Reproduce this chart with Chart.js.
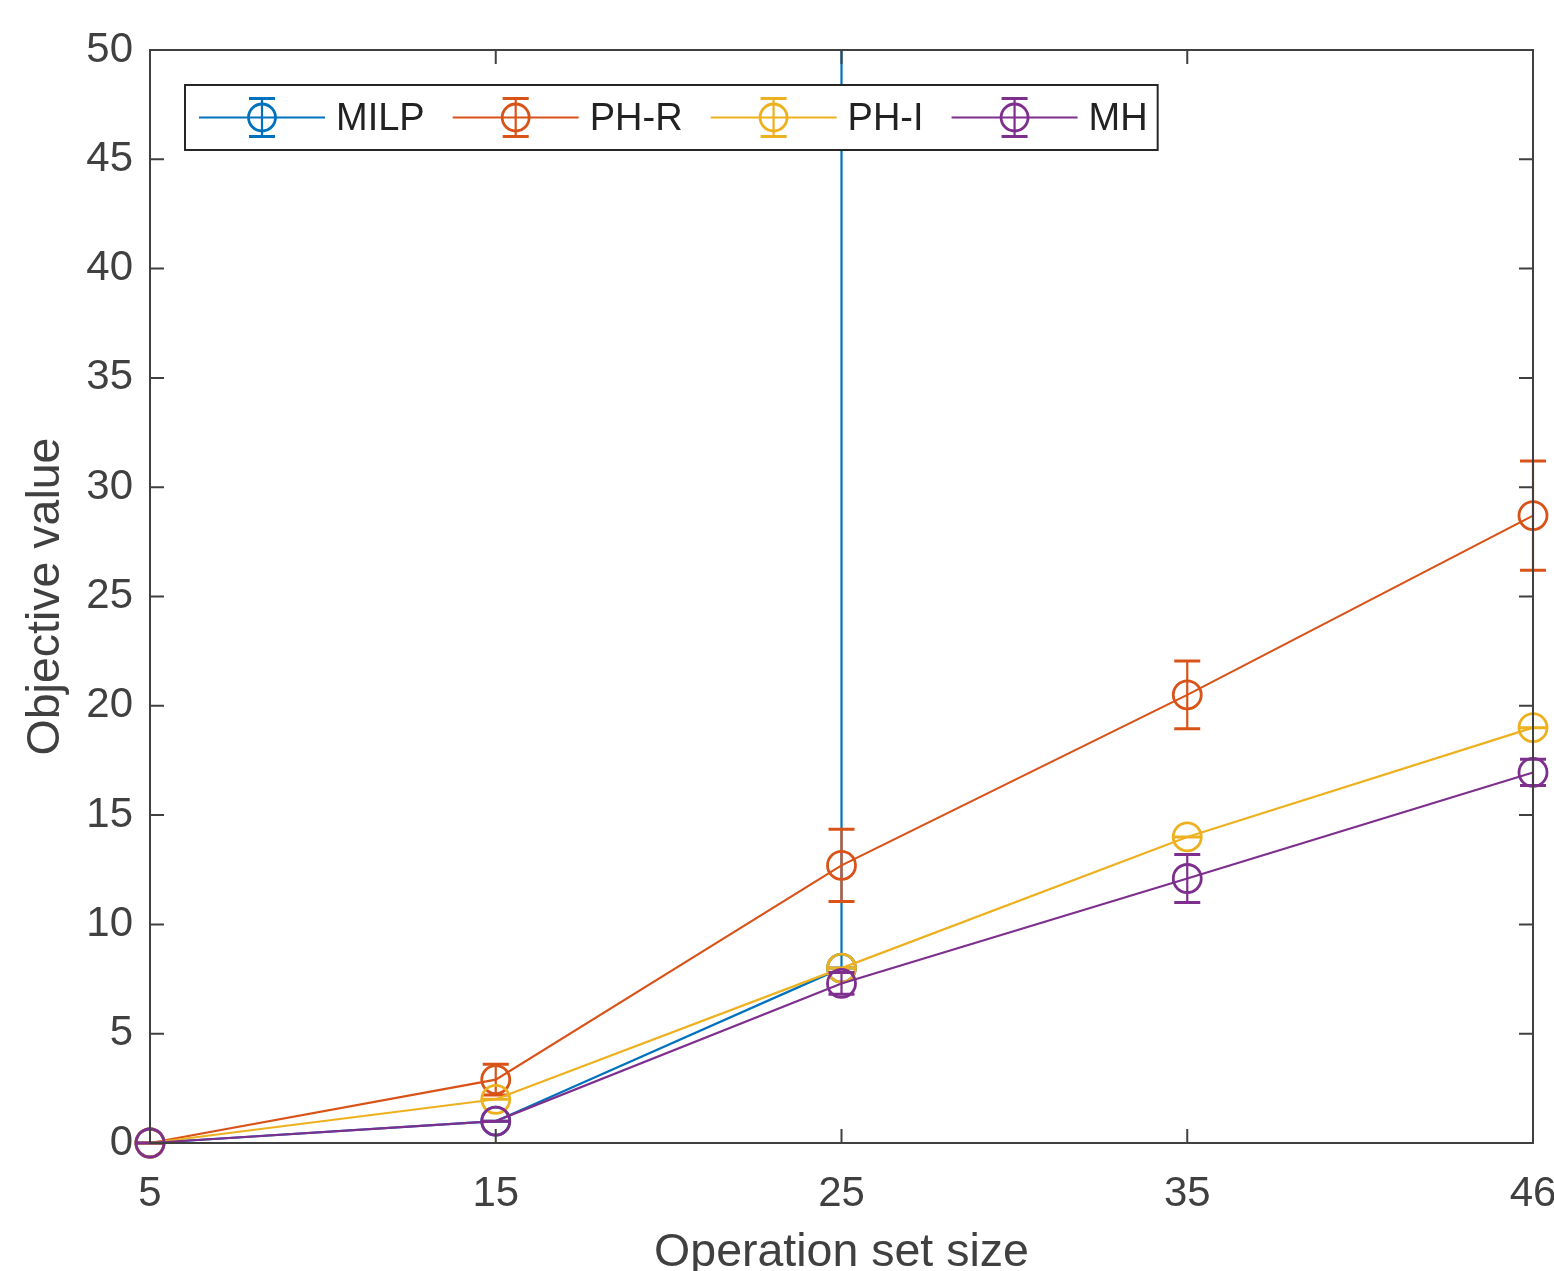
<!DOCTYPE html>
<html>
<head>
<meta charset="utf-8">
<script src="https://cdn.jsdelivr.net/npm/chart.js@4"></script>
<style>
  html, body { margin: 0; padding: 0; background: #fff; }
  #wrap { width: 1554px; height: 1271px; }
</style>
</head>
<body>
<div id="wrap"><canvas id="objChart" width="1554" height="1271"></canvas></div>
<script>
// operation set sizes (x categories)
const sizes = ['5', '15', '25', '35', '46'];

// mean objective values per method
const milp = [0, 1, 8, null, null];
const phR = [0, 2.9, 12.7, 20.5, 28.7];
const phI = [0, 2, 8, 14, 19];
const mh = [0, 1, 7.3, 12.1, 16.95];

// error bar lengths (below / above the mean)
const milpErrLow = [0, 0, 0, null, null];
const milpErrHigh = [0, 0, 100, null, null];
const phRErr = [0, 0.7, 1.65, 1.55, 2.5];
const phIErr = [0, 0, 0, 0, 0];
const mhErr = [0, 0, 0.5, 1.1, 0.6];

const yTicks = [0, 5, 10, 15, 20, 25, 30, 35, 40, 45, 50];

const FONT = '"Liberation Sans", Arial, Helvetica, sans-serif';
const AXIS_COLOR = '#404040';

function makeSet(label, data, lo, hi, color, order) {
    return {
        label: label,
        data: data,
        errLow: lo,
        errHigh: hi,
        borderColor: color,
        backgroundColor: color,
        borderWidth: 2.2,
        pointStyle: 'circle',
        pointRadius: 14,
        pointBorderWidth: 2.8,
        pointBorderColor: color,
        pointBackgroundColor: 'rgba(0,0,0,0)',
        tension: 0,
        spanGaps: false,
        clip: false,
        order: order
    };
}

const errorBars = {
    id: 'errorBars',
    afterDatasetDraw(chart, args) {
        const ds = chart.data.datasets[args.index];
        const y = chart.scales.y;
        const area = chart.chartArea;
        const ctx = chart.ctx;
        ctx.save();
        ctx.beginPath();
        ctx.rect(area.left - 20, area.top, area.right - area.left + 40, area.bottom - area.top + 20);
        ctx.clip();
        ctx.strokeStyle = ds.borderColor;
        args.meta.data.forEach((pt, i) => {
            const v = ds.data[i];
            if (v === null || v === undefined) return;
            const lo = ds.errLow[i], hi = ds.errHigh[i];
            const yLo = y.getPixelForValue(v - lo);
            const yHi = y.getPixelForValue(v + hi);
            const x = pt.x;
            ctx.lineWidth = 2.2;
            ctx.beginPath();
            ctx.moveTo(x, yLo);
            ctx.lineTo(x, yHi);
            ctx.stroke();
            ctx.lineWidth = 3;
            ctx.beginPath();
            ctx.moveTo(x - 13, yLo);
            ctx.lineTo(x + 13, yLo);
            ctx.moveTo(x - 13, yHi);
            ctx.lineTo(x + 13, yHi);
            ctx.stroke();
        });
        ctx.restore();
    }
};

const boxAndLegend = {
    id: 'boxAndLegend',
    afterDraw(chart) {
        const ctx = chart.ctx;
        const a = chart.chartArea;
        const xs = chart.scales.x, ys = chart.scales.y;
        ctx.save();
        // axes box with inward ticks (MATLAB style)
        ctx.strokeStyle = AXIS_COLOR;
        ctx.lineWidth = 2;
        ctx.strokeRect(a.left, a.top, a.right - a.left, a.bottom - a.top);
        ctx.beginPath();
        sizes.forEach((s, i) => {
            const px = xs.getPixelForValue(i);
            ctx.moveTo(px, a.bottom);
            ctx.lineTo(px, a.bottom - 14);
            ctx.moveTo(px, a.top);
            ctx.lineTo(px, a.top + 14);
        });
        yTicks.forEach(t => {
            const py = ys.getPixelForValue(t);
            ctx.moveTo(a.left, py);
            ctx.lineTo(a.left + 14, py);
            ctx.moveTo(a.right, py);
            ctx.lineTo(a.right - 14, py);
        });
        ctx.stroke();

        // legend box
        const bx = 185, by = 85, bh = 65;
        ctx.font = '38px ' + FONT;
        let x = 199;
        const items = [];
        chart.data.datasets.forEach(ds => {
            const tw = ctx.measureText(ds.label).width;
            items.push({ ds: ds, x: x, tw: tw });
            x = x + 137 + tw + 28;
        });
        const bw = x - 28 + 10 - bx;
        ctx.fillStyle = '#fff';
        ctx.fillRect(bx, by, bw, bh);
        ctx.strokeStyle = '#262626';
        ctx.lineWidth = 2;
        ctx.strokeRect(bx, by, bw, bh);
        const cy = by + bh / 2;
        items.forEach(it => {
            const c = it.ds.borderColor;
            const mx = it.x + 63;
            ctx.strokeStyle = c;
            ctx.lineWidth = 2.2;
            ctx.beginPath();
            ctx.moveTo(it.x, cy);
            ctx.lineTo(it.x + 126, cy);
            ctx.moveTo(mx, cy - 19);
            ctx.lineTo(mx, cy + 19);
            ctx.stroke();
            ctx.lineWidth = 3;
            ctx.beginPath();
            ctx.moveTo(mx - 13, cy - 19);
            ctx.lineTo(mx + 13, cy - 19);
            ctx.moveTo(mx - 13, cy + 19);
            ctx.lineTo(mx + 13, cy + 19);
            ctx.stroke();
            ctx.lineWidth = 2.8;
            ctx.beginPath();
            ctx.arc(mx, cy, 13.5, 0, Math.PI * 2);
            ctx.stroke();
            ctx.fillStyle = '#222';
            ctx.textBaseline = 'middle';
            ctx.textAlign = 'left';
            ctx.fillText(it.ds.label, it.x + 137, cy + 2);
        });
        ctx.restore();
    }
};

const ctx = document.getElementById('objChart').getContext('2d');
const chart = new Chart(ctx, {
    type: 'line',
    data: {
        labels: sizes,
        datasets: [
            makeSet('MILP', milp, milpErrLow, milpErrHigh, '#0072BD', 4),
            makeSet('PH-R', phR, phRErr, phRErr, '#D95319', 3),
            makeSet('PH-I', phI, phIErr, phIErr, '#EDB120', 2),
            makeSet('MH', mh, mhErr, mhErr, '#7E2F8E', 1)
        ]
    },
    options: {
        responsive: false,
        animation: false,
        events: [],
        layout: { padding: { top: 50, right: 21, left: 0, bottom: 0 } },
        plugins: {
            legend: { display: false },
            tooltip: { enabled: false }
        },
        scales: {
            x: {
                type: 'category',
                offset: false,
                grid: { display: false, drawTicks: false },
                border: { display: false },
                ticks: { color: AXIS_COLOR, font: { family: FONT, size: 42 }, padding: 26, maxRotation: 0 },
                title: {
                    display: true,
                    text: 'Operation set size',
                    color: AXIS_COLOR,
                    font: { family: FONT, size: 46.5 },
                    padding: { top: 0, bottom: -10 }
                },
                afterFit(scale) {
                    scale.height = 128;
                    scale.paddingLeft = 0;
                    scale.paddingRight = 0;
                }
            },
            y: {
                min: 0,
                max: 50,
                grid: { display: false, drawTicks: false },
                border: { display: false },
                ticks: { stepSize: 5, color: AXIS_COLOR, font: { family: FONT, size: 42 }, padding: 17 },
                title: {
                    display: true,
                    text: 'Objective value',
                    color: AXIS_COLOR,
                    font: { family: FONT, size: 46.5 },
                    padding: { top: 18, bottom: 0 }
                },
                afterFit(scale) {
                    scale.width = 150;
                    scale.paddingTop = 0;
                    scale.paddingBottom = 0;
                }
            }
        }
    },
    plugins: [errorBars, boxAndLegend]
});
</script>
</body>
</html>
